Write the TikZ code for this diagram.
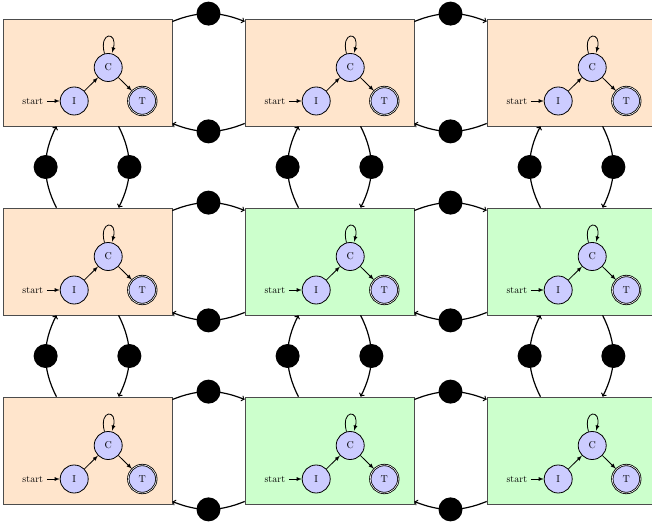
\documentclass[tikz,border=0pt]{standalone}
\usetikzlibrary{automata, arrows}
\tikzset{>=latex}
\tikzset{panel/.style={draw=black!70, semithick, minimum width=169pt, minimum height=107pt, inner sep=0pt}}
\tikzset{token/.style={circle, fill=black, inner sep=0pt, minimum size=24pt}}
\tikzset{flow/.style={-to, very thick}}
\tikzset{every state/.style={fill=blue!20, thick, minimum size=28pt, inner sep=0pt}}

\begin{document}
\begin{tikzpicture}[x=1pt, y=1pt, thick]
\useasboundingbox (0,0) rectangle (652,527);

\foreach \r/\c/\tint in {1/1/orange, 1/2/orange, 1/3/orange,
                         2/1/orange, 2/2/green, 2/3/green,
                         3/1/orange, 3/2/green, 3/3/green}{
  \begin{scope}[shift={(87.5+242*\c-242, 643.5-189*\r)}]
  \node[panel, fill=\tint!20] (b\r\c) at (0,0) {};
  \node[state, initial] (I\r\c) at (-13.3,-28.5) {I};
  \node[state] (C\r\c) at (20.7,5) {C};
  \node[state, accepting] (T\r\c) at (54.8,-28.5) {T};
  \draw[->] (I\r\c) -- (C\r\c);
  \draw[->] (C\r\c) -- (T\r\c);
  \path[->] (C\r\c) edge[loop above] ();
  \end{scope}
}

% left and right neighbours
\foreach \r in {1,2,3}{
  \foreach \c [evaluate=\c as \d using int(\c+1)] in {1,2}{
    \draw[flow] (b\r\c.31) to[bend left=22] node[token] {} (b\r\d.149);
    \draw[flow] (b\r\d.211) to[bend left=22] node[token] {} (b\r\c.329);
  }
}

% upper and lower neighbours
\foreach \c in {1,2,3}{
  \foreach \r [evaluate=\r as \s using int(\r+1)] in {1,2}{
    \draw[flow] (b\s\c.120) to[bend left=27] node[token] {} (b\r\c.240);
    \draw[flow] (b\r\c.300) to[bend left=27] node[token] {} (b\s\c.60);
  }
}

\end{tikzpicture}
\end{document}
